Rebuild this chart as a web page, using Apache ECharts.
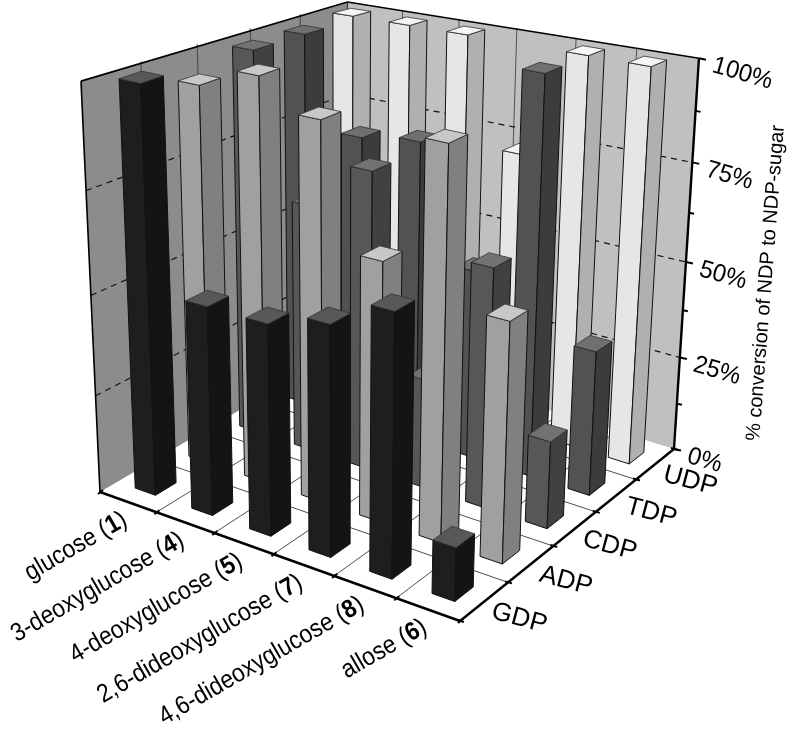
<!DOCTYPE html>
<html><head><meta charset="utf-8">
<style>html,body{margin:0;padding:0;background:#fff}#c{width:796px;height:738px}</style>
<script src="https://cdn.jsdelivr.net/npm/echarts@6/dist/echarts.min.js"></script>
</head><body><div id="c"></div>
<script>
const sugars = ['glucose','3-deoxyglucose','4-deoxyglucose','2,6-dideoxyglucose','4,6-dideoxyglucose','allose'];
const sugarIds = ['1','4','5','7','8','6'];
const nucleotides = ['GDP','ADP','CDP','TDP','UDP'];
const percentTicks = ['0%','25%','50%','75%','100%'];
const GDP = [100,52,52,56,63,13];
const ADP = [95,100,93,64,94,58];
const CDP = [99,64,76,28,60,22];
const TDP = [99,76,78,49,100,37];
const UDP = [100,100,100,73,100,100];
const rows = [GDP,ADP,CDP,TDP,UDP];
const yTitle = '% conversion of NDP to NDP-sugar';

const W=796,H=738;
// projection layout
const FL=[100,492],FR=[460,621],BR=[674,449],BL=[347,347],VP=[340,5680];
const KFL=.0792,KFR=.0892,KBR=.0747,KBL=.0647,PERSP=1.09;
const hg=(()=>{const[x0,y0]=FL,[x1,y1]=FR,[x2,y2]=BR,[x3,y3]=BL;
 const dx1=x1-x2,dx2=x3-x2,dy1=y1-y2,dy2=y3-y2,sx=x0-x1+x2-x3,sy=y0-y1+y2-y3,det=dx1*dy2-dx2*dy1;
 const g=(sx*dy2-dx2*sy)/det,h=(dx1*sy-sx*dy1)/det;
 return {a:x1-x0+g*x1,b:x3-x0+h*x3,c:x0,d:y1-y0+g*y1,e:y3-y0+h*y3,f:y0,g,h};})();
function proj(u,v,t){
 const w=hg.g*u+hg.h*v+1, x=(hg.a*u+hg.b*v+hg.c)/w, y=(hg.d*u+hg.e*v+hg.f)/w;
 const k=KFL*(1-u)*(1-v)+KFR*u*(1-v)+KBR*u*v+KBL*(1-u)*v;
 const f=t<=0?0:t/(t+(1-t)*PERSP), s=1+f*k;
 return [VP[0]+(x-VP[0])*s, VP[1]+(y-VP[1])*s];
}
const poly=(pts,fill,stroke,lw)=>({type:'polygon',shape:{points:pts},style:{fill,stroke:stroke||'none',lineWidth:lw||1,lineJoin:'round'},silent:true});
const line=(a,b,stroke,lw,dash)=>({type:'line',shape:{x1:a[0],y1:a[1],x2:b[0],y2:b[1]},style:{stroke,lineWidth:lw,lineDash:dash||null,lineCap:'butt'},silent:true});
const FF='"Liberation Sans",Arial,sans-serif';
const text=(str,p,rotDeg,size,align,vAlign,rich,sx)=>({type:'text',x:p[0],y:p[1],rotation:rotDeg*Math.PI/180,scaleX:sx||1,silent:true,
 style:{text:str,x:0,y:0,fill:'#000',font:size+'px '+FF,fontFamily:FF,fontSize:size,align,verticalAlign:vAlign,rich:rich||undefined}});

const faces=[
 {left:'#1e1e1e',right:'#141414',top:'#585858'},
 {left:'#a0a0a0',right:'#808080',top:'#c8c8c8'},
 {left:'#575757',right:'#414141',top:'#727272'},
 {left:'#525252',right:'#3c3c3c',top:'#707070'},
 {left:'#e6e6e6',right:'#b0b0b0',top:'#f5f5f5'}
];
const HALF_U=.03, HALF_V=.038;
function barRenderer(j){
 return function(params,api){
  const c=api.coord([api.value(0),api.value(1)]);
  const u=c[0]/W, t=1-c[1]/H, v=(j+.5)/rows.length;
  const u0=u-HALF_U,u1=u+HALF_U,v0=v-HALF_V,v1=v+HALF_V;
  const f=faces[j];
  return {type:'group',children:[
   poly([proj(u0,v0,0),proj(u1,v0,0),proj(u1,v0,t),proj(u0,v0,t)],f.left,'#111',1),
   poly([proj(u1,v0,0),proj(u1,v1,0),proj(u1,v1,t),proj(u1,v0,t)],f.right,'#111',1),
   poly([proj(u0,v0,t),proj(u1,v0,t),proj(u1,v1,t),proj(u0,v1,t)],f.top,'#333',.8)
  ]};
 };
}
function frameRenderer(){
 const n=sugars.length,m=nucleotides.length,ch=[];
 ch.push(poly([proj(0,0,0),proj(1,0,0),proj(1,1,0),proj(0,1,0)],'#fff'));
 ch.push(poly([proj(0,0,0),proj(0,1,0),proj(0,1,1),proj(0,0,1)],'#8c8c8c'));
 ch.push(poly([proj(0,1,0),proj(1,1,0),proj(1,1,1),proj(0,1,1)],'#c0c0c0'));
 for(let i=1;i<n;i++){ch.push(line(proj(i/n,0,0),proj(i/n,1,0),'#222',.8));ch.push(line(proj(i/n,1,0),proj(i/n,1,1),'#333',.8));}
 for(let j=1;j<m;j++){ch.push(line(proj(0,j/m,0),proj(1,j/m,0),'#222',.8));ch.push(line(proj(0,j/m,0),proj(0,j/m,1),'#333',.8));}
 for(let q=1;q<percentTicks.length-1;q++){const t=q/(percentTicks.length-1);
  ch.push(line(proj(0,0,t),proj(0,1,t),'#111',1.2,[6,5]));ch.push(line(proj(0,1,t),proj(1,1,t),'#111',1.2,[6,5]));}
 ch.push(line(proj(0,1,1),proj(0,1,0),'#222',1));
 ch.push(line(proj(0,0,0),proj(0,0,1),'#000',1.6));
 ch.push(line(proj(0,0,1),proj(0,1,1),'#000',1.6));
 ch.push(line(proj(0,1,1),proj(1,1,1),'#000',1.6));
 return ch;
}
function axesRenderer(){
 const n=sugars.length,m=nucleotides.length,ch=[];
 ch.push(line(proj(0,0,0),proj(1,0,0),'#000',2.4));
 ch.push(line(proj(1,0,0),proj(1,1,0),'#000',2.4));
 ch.push(line(proj(1,1,0),proj(1,1,1),'#000',2.4));
 for(let i=0;i<=n;i++){const p=proj(i/n,0,0);ch.push(line([p[0]-2,p[1]+2],[p[0]+3,p[1]-2],'#000',2));}
 for(let j=0;j<=m;j++){const p=proj(1,j/m,0);ch.push(line([p[0]-3,p[1]-1],[p[0]+4,p[1]+1],'#000',2));}
 for(let q=0;q<=8;q++){const p=proj(1,1,q/8);ch.push(line([p[0],p[1]],[p[0]+(q%2?5:7),p[1]+(q%2?1:1.5)],'#000',2));}
 const rich={b:{fontFamily:FF,fontSize:25.5,fontWeight:'bold',fill:'#000'},t:{fontFamily:FF,fontSize:25.5,fill:'#000'}};
 sugars.forEach((s,i)=>{const p=proj((i+.5)/n,0,0);
  ch.push(text('{t|'+s+' (}{b|'+sugarIds[i]+'}{t|)}',[p[0]-3,p[1]+16],30,25.5,'right','middle',rich,.9));});
 nucleotides.forEach((s,j)=>{const p=proj(1,(j+.5)/m,0);
  ch.push(text(s,[p[0]+35,p[1]+17],-15,26,'center','middle'));});
 percentTicks.forEach((s,q)=>{const p=proj(1,1,q/4);
  ch.push(text(s,[p[0]+14,p[1]+7],-16,25,'left','middle',null,.96));});
 ch.push(text(yTitle,[766,283],85.5,20,'center','middle'));
 return ch;
}
const series=[
 {type:'custom',coordinateSystem:'none',silent:true,z:1,data:[[0]],renderItem:()=>({type:'group',children:frameRenderer()})}
];
for(let j=rows.length-1;j>=0;j--){
 series.push({type:'custom',name:nucleotides[j],coordinateSystem:'cartesian2d',z:2,silent:true,clip:false,
  encode:{x:0,y:1},data:rows[j].map((val,i)=>[i,val]),renderItem:barRenderer(j)});
}
series.push({type:'custom',coordinateSystem:'none',silent:true,z:3,data:[[0]],renderItem:()=>({type:'group',children:axesRenderer()})});
const chart=echarts.init(document.getElementById('c'),null,{renderer:'canvas'});
chart.setOption({animation:false,backgroundColor:'#fff',
 grid:{left:0,top:0,width:W,height:H,show:false},
 xAxis:{type:'category',data:sugars,show:false},
 yAxis:{type:'value',min:0,max:100,show:false},
 tooltip:{show:false},
 series});
</script></body></html>
